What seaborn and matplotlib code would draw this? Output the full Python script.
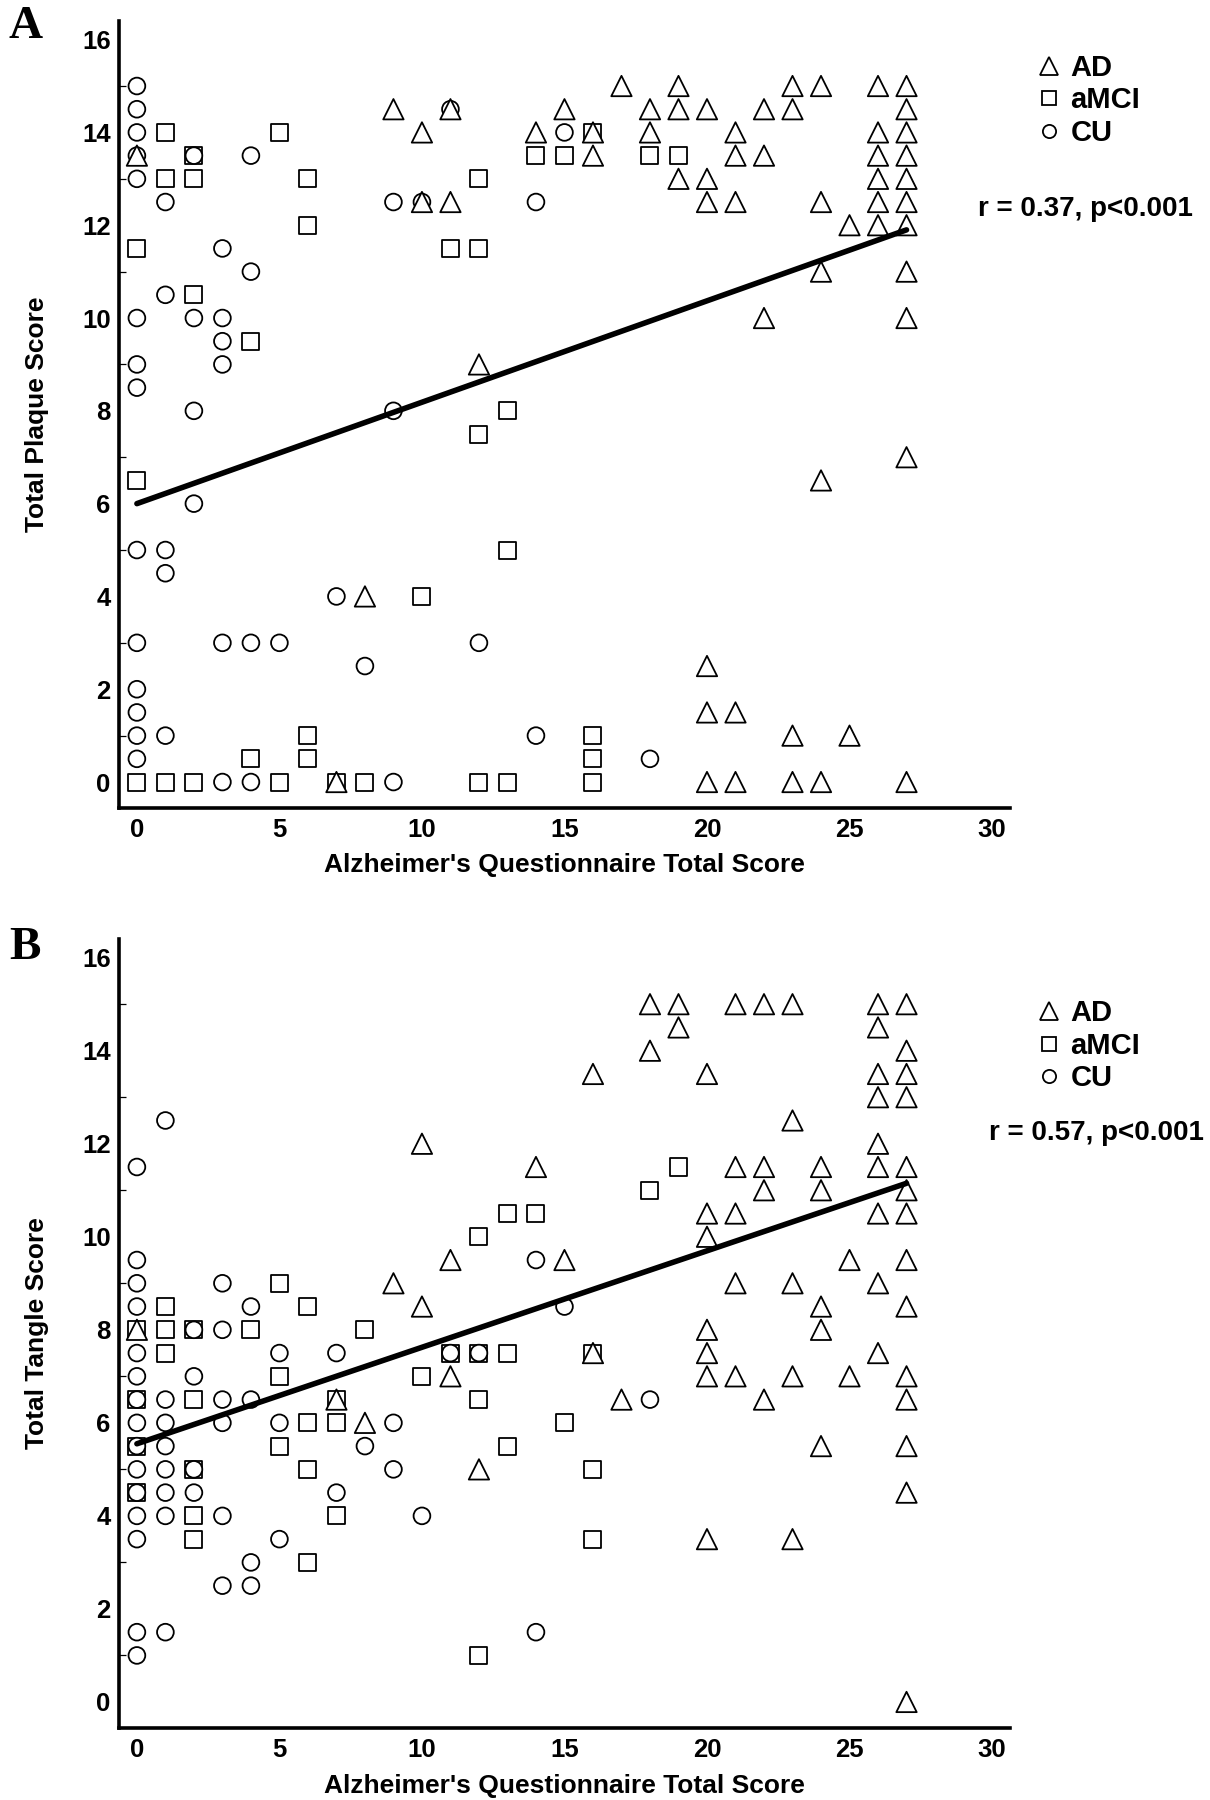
import numpy as np
import pandas as pd
import matplotlib
matplotlib.use("Agg")
import matplotlib.pyplot as plt
import seaborn as sns
from matplotlib.lines import Line2D
from matplotlib.ticker import MultipleLocator

# ---------------- data ----------------
groups = ["AD", "aMCI", "CU"]

# Panel A: Total Plaque Score
plaque_ad_x = [0, 7, 8, 9, 10, 10, 11, 11, 12, 14, 15, 16, 16, 17, 18, 18, 19, 19, 19,
               20, 20, 20, 20, 20, 20, 21, 21, 21, 21, 21, 22, 22, 22, 23, 23, 23, 23,
               24, 24, 24, 24, 24, 25, 25, 26, 26, 26, 26, 26, 26,
               27, 27, 27, 27, 27, 27, 27, 27, 27, 27, 27]
plaque_ad_y = [13.5, 0, 4, 14.5, 14, 12.5, 14.5, 12.5, 9, 14, 14.5, 14, 13.5, 15, 14.5, 14, 15, 14.5, 13,
               14.5, 13, 12.5, 2.5, 1.5, 0, 14, 13.5, 12.5, 1.5, 0, 14.5, 13.5, 10, 15, 14.5, 1, 0,
               15, 12.5, 11, 6.5, 0, 12, 1, 15, 14, 13.5, 13, 12.5, 12,
               15, 14.5, 14, 13.5, 13, 12.5, 12, 11, 10, 7, 0]
plaque_mci_x = [0, 0, 0, 1, 1, 1, 2, 2, 2, 2, 4, 4, 5, 5, 6, 6, 6, 6, 7, 8, 10, 11, 12, 12, 12, 12,
                13, 13, 13, 14, 15, 16, 16, 16, 16, 18, 19]
plaque_mci_y = [11.5, 6.5, 0, 14, 13, 0, 13.5, 13, 10.5, 0, 9.5, 0.5, 14, 0, 13, 12, 1, 0.5, 0, 0, 4,
                11.5, 13, 11.5, 7.5, 0, 8, 5, 0, 13.5, 13.5, 14, 1, 0.5, 0, 13.5, 13.5]
plaque_cu_x = [0, 0, 0, 0, 0, 0, 0, 0, 0, 0, 0, 0, 0, 0, 1, 1, 1, 1, 1, 2, 2, 2, 2,
               3, 3, 3, 3, 3, 3, 4, 4, 4, 4, 5, 7, 8, 9, 9, 9, 10, 11, 12, 14, 14, 15, 18]
plaque_cu_y = [15, 14.5, 14, 13.5, 13, 10, 9, 8.5, 5, 3, 2, 1.5, 1, 0.5, 12.5, 10.5, 5, 4.5, 1,
               13.5, 10, 8, 6, 11.5, 10, 9.5, 9, 3, 0, 13.5, 11, 3, 0, 3, 4, 2.5, 12.5, 8, 0,
               12.5, 14.5, 3, 12.5, 1, 14, 0.5]

# Panel B: Total Tangle Score
tangle_ad_x = [0, 7, 8, 9, 10, 10, 11, 11, 12, 14, 15, 16, 16, 17, 18, 18, 19, 19,
               20, 20, 20, 20, 20, 20, 20, 21, 21, 21, 21, 21, 22, 22, 22, 22,
               23, 23, 23, 23, 23, 24, 24, 24, 24, 24, 25, 25,
               26, 26, 26, 26, 26, 26, 26, 26, 26,
               27, 27, 27, 27, 27, 27, 27, 27, 27, 27, 27, 27, 27, 27]
tangle_ad_y = [8, 6.5, 6, 9, 12, 8.5, 9.5, 7, 5, 11.5, 9.5, 13.5, 7.5, 6.5, 15, 14, 15, 14.5,
               13.5, 10.5, 10, 8, 7.5, 7, 3.5, 15, 11.5, 10.5, 9, 7, 15, 11.5, 11, 6.5,
               15, 12.5, 9, 7, 3.5, 11.5, 11, 8.5, 8, 5.5, 9.5, 7,
               15, 14.5, 13.5, 13, 12, 11.5, 10.5, 9, 7.5,
               15, 14, 13.5, 13, 11.5, 11, 10.5, 9.5, 8.5, 7, 6.5, 5.5, 4.5, 0]
tangle_mci_x = [0, 0, 0, 0, 1, 1, 1, 2, 2, 2, 2, 2, 4, 5, 5, 5, 6, 6, 6, 6, 7, 7, 7, 8,
                10, 11, 12, 12, 12, 12, 13, 13, 13, 14, 15, 16, 16, 16, 18, 19]
tangle_mci_y = [8, 6.5, 5.5, 4.5, 8.5, 8, 7.5, 8, 6.5, 5, 4, 3.5, 8, 9, 7, 5.5, 8.5, 6, 5, 3,
                6.5, 6, 4, 8, 7, 7.5, 10, 7.5, 6.5, 1, 10.5, 7.5, 5.5, 10.5, 6, 7.5, 5, 3.5,
                11, 11.5]
tangle_cu_x = [0, 0, 0, 0, 0, 0, 0, 0, 0, 0, 0, 0, 0, 0, 0,
               1, 1, 1, 1, 1, 1, 1, 1, 2, 2, 2, 2, 3, 3, 3, 3, 3, 3, 4, 4, 4, 4,
               5, 5, 5, 7, 7, 8, 9, 9, 10, 11, 12, 14, 14, 15, 18]
tangle_cu_y = [11.5, 9.5, 9, 8.5, 7.5, 7, 6.5, 6, 5.5, 5, 4.5, 4, 3.5, 1.5, 1,
               12.5, 6.5, 6, 5.5, 5, 4.5, 4, 1.5, 8, 7, 5, 4.5, 9, 8, 6.5, 6, 4, 2.5,
               8.5, 6.5, 3, 2.5, 7.5, 6, 3.5, 7.5, 4.5, 5.5, 6, 5, 4, 7.5, 7.5, 9.5, 1.5,
               8.5, 6.5]

# regression lines (endpoints)
fit_x = [0, 27]
fit_plaque = [6.0, 11.9]
fit_tangle = [5.55, 11.15]

stats_text = ["r = 0.37, p<0.001", "r = 0.57, p<0.001"]
panel_letters = ["A", "B"]
y_titles = ["Total Plaque Score", "Total Tangle Score"]
x_title = "Alzheimer's Questionnaire Total Score"

# ---------------- style ----------------
sns.set_style("white")
plt.rcParams["font.family"] = ["Liberation Sans", "DejaVu Sans"]
plt.rcParams["font.weight"] = "bold"
plt.rcParams["axes.labelweight"] = "bold"
for key in ["text.color", "axes.labelcolor", "xtick.color", "ytick.color", "axes.edgecolor"]:
    plt.rcParams[key] = "black"

marker_map = {"AD": "^", "aMCI": "s", "CU": "o"}
size_map = {"AD": 215, "aMCI": 150, "CU": 145}
draw_order = ["aMCI", "CU", "AD"]


def make_df(ad_x, ad_y, mci_x, mci_y, cu_x, cu_y):
    parts = {
        "AD": pd.DataFrame({"aq": ad_x, "score": ad_y}),
        "aMCI": pd.DataFrame({"aq": mci_x, "score": mci_y}),
        "CU": pd.DataFrame({"aq": cu_x, "score": cu_y}),
    }
    frames = []
    for g in draw_order:
        d = parts[g].copy()
        d["group"] = g
        frames.append(d)
    return pd.concat(frames, ignore_index=True)


df_a = make_df(plaque_ad_x, plaque_ad_y, plaque_mci_x, plaque_mci_y, plaque_cu_x, plaque_cu_y)
df_b = make_df(tangle_ad_x, tangle_ad_y, tangle_mci_x, tangle_mci_y, tangle_cu_x, tangle_cu_y)

fig = plt.figure(figsize=(12.10, 18.00), dpi=100)
ax_a = fig.add_axes([0.0983, 0.5511, 0.7364, 0.4372])
ax_b = fig.add_axes([0.0983, 0.0400, 0.7364, 0.4383])

panels = [(ax_a, df_a, fit_plaque), (ax_b, df_b, fit_tangle)]
letter_y = [0.985, 0.4735]
stats_pos = [(0.986, 0.884), (0.995, 0.3705)]
legend_top = [0.970, 0.4448]
xlabel_y = [-0.057, -0.058]

for i, (ax, df, fit_y) in enumerate(panels):
    sns.scatterplot(data=df, x="aq", y="score", style="group", markers=marker_map,
                    size="group", sizes=size_map, color="white", edgecolor="black",
                    linewidth=1.3, legend=False, ax=ax, zorder=3)
    sns.lineplot(x=fit_x, y=fit_y, ax=ax, color="black", linewidth=4.0, zorder=4)

    ax.set_xlim(-0.63, 30.63)
    ax.set_ylim(-0.56, 16.4)
    ax.xaxis.set_major_locator(MultipleLocator(5))
    ax.yaxis.set_major_locator(MultipleLocator(2))
    ax.yaxis.set_minor_locator(MultipleLocator(1))
    ax.tick_params(axis="both", which="major", direction="in", length=12, width=2.2,
                   labelsize=18.5, colors="black")
    ax.tick_params(axis="y", which="major", pad=6)
    ax.tick_params(axis="x", which="major", pad=7)
    ax.tick_params(axis="y", which="minor", direction="in", length=5, width=0.9, left=True)
    ax.tick_params(axis="x", which="minor", bottom=False)
    for s in ["top", "right"]:
        ax.spines[s].set_visible(False)
    for s in ["left", "bottom"]:
        ax.spines[s].set_linewidth(2.6)
        ax.spines[s].set_color("black")

    ax.set_xlabel(x_title, fontsize=19, fontweight="bold")
    ax.set_ylabel(y_titles[i], fontsize=19, fontweight="bold")
    ax.xaxis.set_label_coords(0.5, xlabel_y[i])
    ax.yaxis.set_label_coords(-0.078, 0.5)

    handles = [
        Line2D([], [], marker="^", ls="none", mfc="white", mec="black", mew=1.3, ms=13),
        Line2D([], [], marker="s", ls="none", mfc="white", mec="black", mew=1.3, ms=10),
        Line2D([], [], marker="o", ls="none", mfc="white", mec="black", mew=1.3, ms=9.5),
    ]
    ax.legend(handles, groups, loc="upper left", bbox_to_anchor=(0.8545, legend_top[i]),
              bbox_transform=fig.transFigure, frameon=False, fontsize=21,
              handlelength=1.0, handletextpad=0.25, labelspacing=0.15, borderpad=0,
              borderaxespad=0)

    fig.text(stats_pos[i][0], stats_pos[i][1], stats_text[i], ha="right", va="center",
             fontsize=20, fontweight="bold")
    fig.text(0.021, letter_y[i], panel_letters[i], ha="center", va="center",
             fontsize=34, fontweight="bold", family=["Liberation Serif", "DejaVu Serif"])

fig.savefig("out.png", dpi=100, facecolor="white")
